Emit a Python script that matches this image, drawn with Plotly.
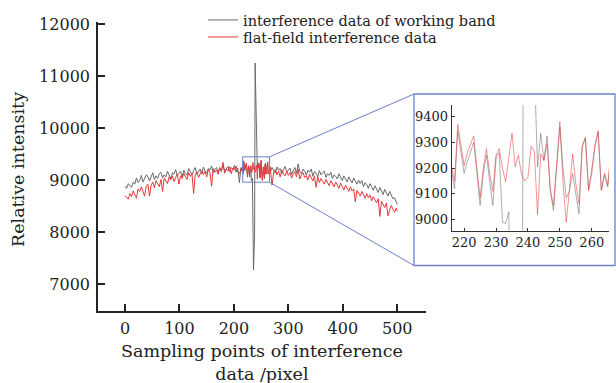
import plotly.graph_objects as go

# ---------------- data ----------------
sample_left = list(range(0, 214, 3))          # 0 .. 213
sample_zoom = list(range(214, 267))           # 214 .. 266
sample_right = list(range(267, 499, 3)) + [500]

working_left = [
    8880, 8840, 8930, 8900, 8860, 8960, 8920, 9040, 8950, 8990, 9090, 8960,
    9020, 9100, 9070, 8980, 9060, 9140, 9010, 9080, 9030, 9120, 9150, 9040,
    9100, 9060, 9170, 9090, 9020, 9140, 9110, 9200, 9080, 9130, 9170, 9060,
    9190, 9120, 9090, 9220, 9150, 9100, 9180, 9240, 9110, 9160, 9210, 9120,
    9250, 9170, 9130, 9220, 9190, 9270, 9140, 9200, 9240, 9150, 9230, 9180,
    9290, 9170, 9210, 9260, 9160, 9240, 9200, 9280, 9150, 9230, 8950, 9240,
]
working_zoom = [
    9170, 9240, 9195, 9120, 9345, 9260, 9180, 9225, 9260, 9300,
    9180, 9055, 9180, 9250, 9150, 9055, 9240, 9260, 8990, 8985,
    9030, 8200, 7270, 7600, 7900, 11250, 10500, 10000, 9600, 9205,
    9335, 9230, 9325, 9115, 9035, 9200, 9360, 9200, 9085, 9110,
    9180, 9100, 9023, 9283, 9315, 9114, 9205, 9283, 9340, 9114,
    9173, 9127, 9255,
]
working_right = [
    9160, 9240, 9180, 9130, 9250, 9190, 9220, 9120, 9200, 9260, 9150,
    9190, 9230, 9110, 9180, 9240, 9130, 9310, 9160, 9120, 9210, 9170,
    9090, 9190, 9150, 9210, 9070, 9160, 9130, 9060, 9180, 9100, 9140,
    9170, 9050, 9120, 9090, 9150, 9030, 9100, 9070, 9020, 9120, 9060,
    8990, 9080, 9030, 8960, 9060, 9010, 8940, 9040, 8980, 8920, 9000,
    8930, 8990, 8870, 8950, 8910, 8840, 8930, 8870, 8800, 8890, 8820,
    8760, 8860, 8790, 8720, 8820, 8750, 8690, 8780, 8700, 8640, 8660,
    8600, 8530,
]

flat_left = [
    8700, 8660, 8630, 8740, 8680, 8790, 8720, 8650, 8830, 8780, 8870, 8760,
    8690, 8880, 8920, 8690, 8900, 8960, 8850, 8990, 8920, 8870, 9010, 8780,
    9040, 8980, 8930, 9060, 9000, 9080, 8970, 9050, 9110, 8920, 9080, 9030,
    9130, 9060, 9010, 9140, 9070, 9120, 8740, 9100, 9160, 9050, 9130, 9180,
    9100, 9170, 9060, 9200, 9140, 8880, 9220, 9150, 9190, 9110, 9240, 9160,
    9340, 9130, 9210, 9170, 9260, 9120, 9230, 9190, 9270, 9150, 9120, 9210,
]
flat_zoom = [
    9190, 9230, 9212, 9150, 9370, 9290, 9210, 9260, 9290, 9325,
    9200, 9085, 9200, 9275, 9180, 9110, 9250, 9275, 9200, 9147,
    9240, 9335, 9205, 9250, 9175, 9150, 9165, 9285, 9265, 9020,
    9255, 9230, 9295, 9115, 9055, 9220, 9380, 9140, 8990, 9120,
    9255, 9140, 9062, 9283, 9320, 9114, 9179, 9290, 9345, 9114,
    9180, 9134, 9265,
]
flat_right = [
    9210, 8900, 9150, 9200, 9100, 9170, 9060, 9190, 9120, 9080, 9170,
    9090, 9140, 9040, 9120, 9160, 9060, 9210, 9020, 9100, 9140, 9050,
    9080, 9000, 9110, 9040, 8980, 9070, 8860, 9060, 8950, 9030, 8980,
    8920, 9010, 8960, 8890, 8990, 8930, 8870, 8960, 8900, 8840, 8940,
    8870, 8810, 8900, 8840, 8780, 8870, 8790, 8830, 8580, 8800, 8740,
    8690, 8780, 8710, 8650, 8740, 8660, 8710, 8600, 8680, 8620, 8560,
    8640, 8300, 8590, 8520, 8470, 8560, 8310, 8420, 8510, 8440, 8380,
    8460, 8400,
]

series_names = ["interference data of working band", "flat-field interference data"]
main_xticks = [0, 100, 200, 300, 400, 500]
main_yticks = [7000, 8000, 9000, 10000, 11000, 12000]
inset_xticks = [220, 230, 240, 250, 260]
inset_yticks = [9000, 9100, 9200, 9300, 9400]

x_all = sample_left + sample_zoom + sample_right
working = working_left + working_zoom + working_right
flat = flat_left + flat_zoom + flat_right

# ---------------- layout geometry (pixels) ----------------
W, H = 616, 383
main_px = dict(l=98, r=426, t=22, b=311)
main_xrange = [-49.6, 552.8]
main_yrange = [6481, 12038]
inset_px = dict(l=451.7, r=609, t=105, b=230.5)
inset_xrange = [216.1, 265.4]
inset_yrange = [8958, 9445]
box_px = dict(l=414, r=615, t=94, b=265.5)

FONT = "DejaVu Serif"
BLUE = "#6c80cc"
INK = "#222222"


def pxx(p):
    return p / W


def pxy(p):
    return 1 - p / H


def main_to_paper(xv, yv):
    fx = (xv - main_xrange[0]) / (main_xrange[1] - main_xrange[0])
    fy = (yv - main_yrange[0]) / (main_yrange[1] - main_yrange[0])
    px = main_px["l"] + fx * (main_px["r"] - main_px["l"])
    py = main_px["b"] - fy * (main_px["b"] - main_px["t"])
    return pxx(px), pxy(py)


fig = go.Figure()
fig.add_trace(go.Scatter(x=x_all, y=working, mode="lines", name=series_names[0],
                         line=dict(color="#6a6a6a", width=1), xaxis="x", yaxis="y",
                         legend="legend"))
fig.add_trace(go.Scatter(x=x_all, y=flat, mode="lines", name=series_names[1],
                         line=dict(color="#e8383d", width=1), xaxis="x", yaxis="y",
                         legend="legend2"))
fig.add_trace(go.Scatter(x=x_all, y=working, mode="lines", showlegend=False,
                         line=dict(color="rgba(110,110,110,0.55)", width=1), xaxis="x2", yaxis="y2"))
fig.add_trace(go.Scatter(x=x_all, y=flat, mode="lines", showlegend=False,
                         line=dict(color="rgba(232,60,60,0.55)", width=1), xaxis="x2", yaxis="y2"))

axis_common = dict(showgrid=False, zeroline=False, showline=True, ticks="inside",
                   automargin=False, tickformat="d")

legend_common = dict(xanchor="left", yanchor="top", bgcolor="rgba(0,0,0,0)",
                     font=dict(family=FONT, size=14.5, color=INK))

fig.update_layout(
    width=W, height=H,
    margin=dict(l=0, r=0, t=0, b=0),
    paper_bgcolor="white", plot_bgcolor="rgba(0,0,0,0)",
    font=dict(family=FONT, color=INK),
    xaxis=dict(**axis_common, domain=[pxx(main_px["l"]), pxx(main_px["r"])],
               range=main_xrange, tickvals=main_xticks, ticklen=7, tickwidth=1.5,
               linecolor=INK, linewidth=1.6, tickcolor=INK, anchor="y",
               ticklabelstandoff=2,
               tickfont=dict(family=FONT, size=16, color=INK)),
    yaxis=dict(**axis_common, domain=[pxy(main_px["b"]), pxy(main_px["t"])],
               range=main_yrange, tickvals=main_yticks, ticklen=7, tickwidth=1.5,
               linecolor=INK, linewidth=1.6, tickcolor=INK, anchor="x",
               ticklabelstandoff=3,
               tickfont=dict(family=FONT, size=16, color=INK)),
    xaxis2=dict(**axis_common, domain=[pxx(inset_px["l"]), pxx(inset_px["r"])],
                range=inset_xrange, tickvals=inset_xticks, ticklen=3, tickwidth=1,
                linecolor="#333333", linewidth=1, tickcolor="#333333", anchor="y2",
                tickfont=dict(family=FONT, size=13, color=INK)),
    yaxis2=dict(**axis_common, domain=[pxy(inset_px["b"]), pxy(inset_px["t"])],
                range=inset_yrange, tickvals=inset_yticks, ticklen=3, tickwidth=1,
                linecolor="#333333", linewidth=1, tickcolor="#333333", anchor="x2",
                tickfont=dict(family=FONT, size=13, color=INK)),
    legend=dict(**legend_common, x=pxx(203), y=pxy(4)),
    legend2=dict(**legend_common, x=pxx(203), y=pxy(21)),
    showlegend=True,
)

# zoom rectangle on main plot
fig.add_shape(type="rect", xref="x", yref="y",
              x0=inset_xrange[0], x1=inset_xrange[1], y0=inset_yrange[0], y1=inset_yrange[1],
              line=dict(color=BLUE, width=1))
# inset frame
fig.add_shape(type="rect", xref="paper", yref="paper",
              x0=pxx(box_px["l"]), x1=pxx(box_px["r"]), y0=pxy(box_px["b"]), y1=pxy(box_px["t"]),
              line=dict(color=BLUE, width=1.3))
# connector lines
tr = main_to_paper(inset_xrange[1], inset_yrange[1])
br = main_to_paper(inset_xrange[1], inset_yrange[0])
fig.add_shape(type="line", xref="paper", yref="paper",
              x0=tr[0], y0=tr[1], x1=pxx(box_px["l"]), y1=pxy(box_px["t"]),
              line=dict(color=BLUE, width=1))
fig.add_shape(type="line", xref="paper", yref="paper",
              x0=br[0], y0=br[1], x1=pxx(box_px["l"]), y1=pxy(box_px["b"]),
              line=dict(color=BLUE, width=1))

# axis titles
fig.add_annotation(text="Sampling points of interference<br>data /pixel",
                   x=pxx(262), y=pxy(362), xref="paper", yref="paper",
                   xanchor="center", yanchor="middle",
                   showarrow=False, font=dict(family=FONT, size=17.5, color=INK))
fig.add_annotation(text="Relative intensity", textangle=-90,
                   x=pxx(18), y=pxy(170), xref="paper", yref="paper",
                   xanchor="center", yanchor="middle",
                   showarrow=False, font=dict(family=FONT, size=17.5, color=INK))

fig.write_html("out.html")
